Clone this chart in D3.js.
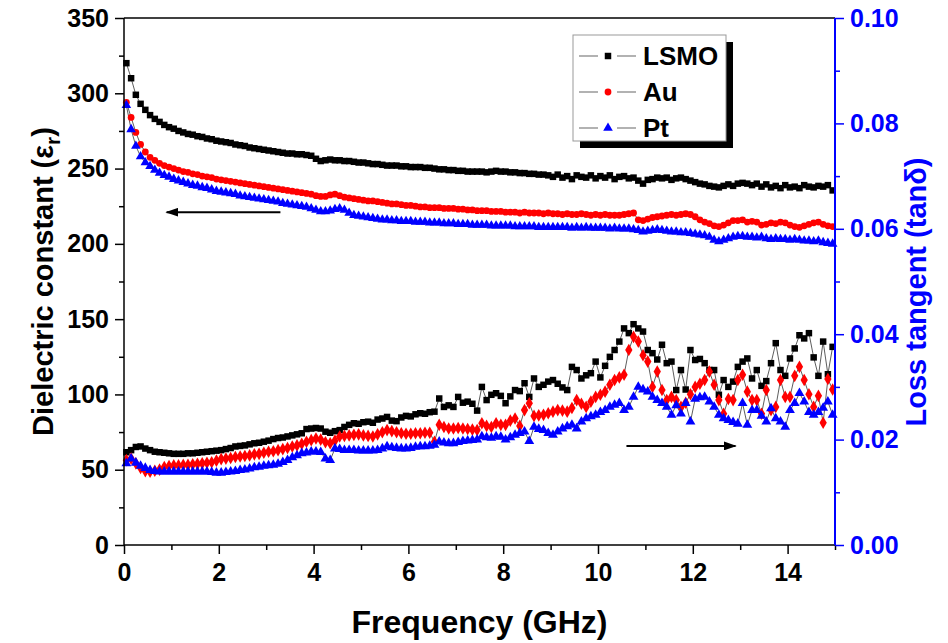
<!DOCTYPE html>
<html lang="en">
<head>
    <meta charset="UTF-8">
    <title>Dielectric constant and loss tangent vs frequency</title>
    <script src="https://d3js.org/d3.v7.min.js"></script>
    <style>
        body { margin: 0; background: #fff; }
        svg text { font-family: 'Liberation Sans', Arial, sans-serif; font-weight: bold; }
    </style>
</head>
<body>
    <div id="chart"></div>
    <script>
        // frequency sweep (GHz), 0.1 GHz step
        const freq = d3.range(150).map(i => +(0.05 + 0.1 * i).toFixed(2));

        // dielectric constant (left axis)
        const epsLSMO = [
            320, 310, 299, 293, 289, 285.5, 283, 281, 279, 277.5,
            276.5, 275, 274, 273, 272.5, 271.5, 271, 270, 269.5, 268.5,
            268, 267.5, 267, 266, 265.5, 265, 264, 263.5, 263, 262.5,
            262, 261.5, 261, 260.5, 260, 260, 259.5, 259.5, 259, 258.5,
            256.5, 255, 255.5, 256, 255.5, 255.5, 255, 255, 254.5, 254,
            254, 253.5, 253, 253, 252.5, 252, 252, 252, 251.5, 251.5,
            251, 251, 251, 250.5, 250.5, 250, 249.5, 249.5, 249, 249,
            248.5, 248.5, 248, 248, 248, 248, 247.5, 248, 248.5, 248,
            248, 247.5, 247.5, 247, 247, 246.5, 246.5, 246, 246, 245.5,
            244.5, 246, 244, 245, 243, 245.5, 244.5, 244, 245.5, 243.5,
            245, 244, 245.5, 243, 244.5, 245, 243.5, 244, 242, 240,
            242.5, 243, 244, 243.5, 244, 242.5, 243.5, 244, 243, 242,
            241, 240, 239.5, 238.5, 238, 237.5, 238.5, 239.5, 238.5, 240,
            240.5, 240, 239, 240, 238, 239.5, 237.5, 238.5, 237, 239,
            237.5, 238, 237, 239, 238, 237.5, 238.5, 238, 239, 235.5
        ];
        const epsAu = [
            294, 284, 274, 266, 261, 257.5, 255.5, 253.5, 252, 251,
            250, 249, 248, 247.5, 246.5, 246, 245, 244.5, 244, 243,
            242.5, 242, 241.5, 241, 240.5, 240, 239.5, 239, 238.5, 238,
            237.5, 237, 236.5, 236, 235.5, 235, 234.5, 234, 233.5, 233,
            232, 231.5, 231.5, 232.5, 233, 232, 231, 230.5, 230, 229.5,
            229, 228.5, 228.5, 228, 227.5, 227, 226.5, 226.5, 226, 225.5,
            225.5, 225, 224.5, 224.5, 224, 224, 224, 223.5, 223.5, 223.5,
            223, 223, 222.5, 222.5, 222, 222, 222, 221.5, 221.5, 221.5,
            221, 221, 221, 220.5, 221, 220.5, 220.5, 220.5, 220, 220.5,
            220, 220, 219.5, 220, 219.5, 219.5, 220, 219.5, 219, 219.5,
            219, 219.5, 219, 219, 219, 219.5, 220, 220.5, 216, 215.5,
            216.5, 217.5, 218, 218.5, 219, 219.5, 219, 219.5, 220, 219.5,
            218, 216, 214.5, 213.5, 212, 211.5, 212.5, 214, 215.5, 215.5,
            216, 214.5, 215, 214.5, 212.5, 213, 214, 213.5, 214.5, 214,
            212.5, 211.5, 211, 212, 213, 214, 214.5, 213, 212, 211.5
        ];
        const epsPt = [
            292, 276, 265, 258, 254, 251.5, 249, 247, 245.5, 244.5,
            243, 242, 241, 240, 239, 238.5, 237.5, 237, 236, 235,
            234.5, 234, 233.5, 233, 232, 231.5, 231, 230.5, 230, 229.5,
            229, 228.5, 228, 227, 226.5, 226, 225.5, 225, 224.5, 223.5,
            222.5, 221.5, 221.5, 222, 223, 223.5, 222.5, 220.5, 219, 218.5,
            218, 217.5, 217, 216.5, 216, 216, 215.5, 215.5, 215, 215,
            215, 214.5, 214.5, 214.5, 214, 214, 214, 213.5, 213.5, 213.5,
            213, 213, 213, 212.5, 212.5, 212.5, 212.5, 212, 212, 212,
            212, 212, 211.5, 211.5, 211.5, 211.5, 211.5, 211, 211, 211,
            211, 211, 211, 211, 210.5, 211, 210.5, 211, 210.5, 210.5,
            210.5, 210.5, 210, 210.5, 210, 210, 210, 209.5, 209, 208,
            208.5, 209, 209.5, 209, 208.5, 208, 208, 207.5, 207.5, 207,
            206.5, 206, 205.5, 204.5, 202.5, 201.5, 202.5, 203.5, 204.5, 205,
            205, 204.5, 204.5, 204, 204.5, 203.5, 203, 203.5, 203, 203,
            202.5, 203, 202.5, 202, 202, 201.5, 202, 201, 200.5, 200
        ];

        // loss tangent (right axis)
        const tanLSMO = [
            .0176, .0180, .0186, .0187, .0183, .0180, .0177, .0176, .0175, .0174,
            .0173, .0173, .0173, .0174, .0174, .0175, .0176, .0177, .0178, .0179,
            .0180, .0182, .0184, .0187, .0188, .0189, .0191, .0193, .0194, .0196,
            .0198, .0201, .0203, .0204, .0206, .0208, .0210, .0212, .0220, .0221,
            .0222, .0221, .0215, .0213, .0216, .0218, .0224, .0228, .0231, .0230,
            .0233, .0234, .0232, .0238, .0240, .0243, .0236, .0235, .0242, .0245,
            .0244, .0248, .0250, .0249, .0252, .0253, .0278, .0262, .0265, .0262,
            .0281, .0270, .0272, .0268, .0255, .0300, .0275, .0285, .0288, .0283,
            .0269, .0282, .0294, .0292, .0307, .0281, .0316, .0300, .0304, .0310,
            .0313, .0306, .0299, .0294, .0338, .0332, .0316, .0322, .0326, .0348,
            .0318, .0340, .0357, .0370, .0386, .0411, .0402, .0419, .0411, .0405,
            .0370, .0364, .0352, .0380, .0345, .0348, .0294, .0332, .0295, .0370,
            .0351, .0353, .0345, .0332, .0332, .0285, .0313, .0300, .0310, .0338,
            .0348, .0354, .0316, .0332, .0302, .0311, .0345, .0383, .0332, .0321,
            .0354, .0373, .0398, .0392, .0402, .0356, .0321, .0386, .0324, .0376
        ];
        const tanAu = [
            .0161, .0164, .0155, .0146, .0140, .0139, .0141, .0143, .0148, .0150,
            .0151, .0151, .0152, .0152, .0153, .0154, .0155, .0156, .0157, .0160,
            .0163, .0164, .0165, .0167, .0168, .0169, .0170, .0172, .0173, .0175,
            .0177, .0178, .0180, .0182, .0184, .0187, .0189, .0192, .0196, .0199,
            .0202, .0200, .0195, .0193, .0198, .0206, .0207, .0208, .0209, .0210,
            .0208, .0207, .0206, .0210, .0214, .0218, .0216, .0214, .0212, .0211,
            .0211, .0212, .0212, .0213, .0213, .0196, .0228, .0224, .0221, .0221,
            .0222, .0221, .0220, .0219, .0218, .0231, .0226, .0224, .0231, .0228,
            .0228, .0236, .0240, .0226, .0256, .0269, .0245, .0246, .0247, .0250,
            .0253, .0256, .0255, .0253, .0260, .0275, .0268, .0262, .0272, .0281,
            .0285, .0291, .0304, .0313, .0318, .0323, .0370, .0395, .0386, .0360,
            .0348, .0300, .0329, .0294, .0275, .0281, .0275, .0262, .0270, .0286,
            .0300, .0306, .0313, .0329, .0304, .0275, .0249, .0277, .0275, .0313,
            .0323, .0291, .0275, .0275, .0249, .0294, .0256, .0262, .0313, .0281,
            .0281, .0321, .0338, .0313, .0286, .0262, .0283, .0232, .0315, .0295
        ];
        const tanPt = [
            .0155, .0164, .0156, .0150, .0146, .0142, .0140, .0139, .0139, .0139,
            .0139, .0139, .0139, .0139, .0139, .0139, .0139, .0139, .0138, .0137,
            .0137, .0138, .0139, .0140, .0142, .0143, .0145, .0147, .0148, .0150,
            .0151, .0152, .0154, .0157, .0161, .0166, .0170, .0174, .0175, .0177,
            .0177, .0176, .0164, .0161, .0183, .0182, .0180, .0180, .0180, .0179,
            .0179, .0179, .0179, .0180, .0183, .0187, .0185, .0184, .0183, .0183,
            .0184, .0186, .0187, .0187, .0188, .0190, .0196, .0194, .0193, .0193,
            .0195, .0197, .0198, .0199, .0200, .0206, .0204, .0203, .0206, .0205,
            .0200, .0204, .0209, .0212, .0215, .0197, .0224, .0220, .0218, .0212,
            .0209, .0215, .0221, .0225, .0228, .0221, .0234, .0240, .0244, .0247,
            .0252, .0256, .0262, .0266, .0269, .0256, .0262, .0281, .0300, .0295,
            .0291, .0281, .0275, .0269, .0262, .0247, .0265, .0249, .0269, .0234,
            .0277, .0280, .0281, .0272, .0262, .0247, .0240, .0237, .0233, .0230,
            .0269, .0228, .0256, .0256, .0245, .0234, .0259, .0240, .0234, .0224,
            .0256, .0269, .0288, .0272, .0252, .0247, .0252, .0260, .0272, .0247
        ];

        const xTicks = [0, 2, 4, 6, 8, 10, 12, 14];
        const xMinorTicks = [1, 3, 5, 7, 9, 11, 13, 15];
        const yLeftTicks = [0, 50, 100, 150, 200, 250, 300, 350];
        const yLeftMinorTicks = [25, 75, 125, 175, 225, 275, 325];
        const yRightTicks = [0, 0.02, 0.04, 0.06, 0.08, 0.10];
        const yRightMinorTicks = [0.01, 0.03, 0.05, 0.07, 0.09];
        const legendNames = ["LSMO", "Au", "Pt"];
        // arrows: [x from, x to, y] in data units of the axis they point to
        const arrowLeft = [3.3, 0.9, 221];
        const arrowRight = [10.6, 12.9, 0.0188];

        const width = 948, height = 643;
        const plot = { left: 124, right: 835, top: 18, bottom: 545 };

        const x = d3.scaleLinear().domain([0, 15]).range([plot.left, plot.right]);
        const yL = d3.scaleLinear().domain([0, 350]).range([plot.bottom, plot.top]);
        const yR = d3.scaleLinear().domain([0, 0.10]).range([plot.bottom, plot.top]);

        const svg = d3.select("#chart").append("svg")
            .attr("width", width)
            .attr("height", height);

        const series = [
            { values: epsLSMO, y: yL, color: "#000", symbol: d3.symbolSquare, size: 42 },
            { values: epsAu, y: yL, color: "#ff0000", symbol: d3.symbolCircle, size: 36 },
            { values: epsPt, y: yL, color: "#0000ff", symbol: d3.symbolTriangle, size: 40 },
            { values: tanLSMO, y: yR, color: "#000", symbol: d3.symbolSquare, size: 42 },
            { values: tanAu, y: yR, color: "#ff0000", symbol: d3.symbolDiamond, size: 46 },
            { values: tanPt, y: yR, color: "#0000ff", symbol: d3.symbolTriangle, size: 42 }
        ];

        // connecting lines first, symbols on top
        series.forEach(s => {
            const line = d3.line()
                .x((d, i) => x(freq[i]))
                .y(d => s.y(d));
            svg.append("path")
                .datum(s.values)
                .attr("d", line)
                .attr("fill", "none")
                .attr("stroke", "#333")
                .attr("stroke-width", 0.8);
        });
        series.forEach(s => {
            svg.append("g")
                .selectAll("path")
                .data(s.values)
                .join("path")
                .attr("transform", (d, i) => `translate(${x(freq[i])},${s.y(d)})`)
                .attr("d", d3.symbol().type(s.symbol).size(s.size))
                .attr("fill", s.color);
        });

        // axes
        const styleAxis = (g, color, fontSize) => {
            g.selectAll("path.domain").remove();
            g.selectAll("line").attr("stroke", color).attr("stroke-width", 1.5);
            g.selectAll("text").attr("fill", color).style("font-size", fontSize + "px");
        };

        svg.append("g")
            .attr("transform", `translate(0,${plot.bottom})`)
            .call(d3.axisBottom(x).tickValues(xTicks).tickSize(9).tickPadding(9).tickFormat(d3.format("d")))
            .call(g => styleAxis(g, "#000", 25));
        svg.append("g")
            .attr("transform", `translate(0,${plot.bottom})`)
            .call(d3.axisBottom(x).tickValues(xMinorTicks).tickSize(5).tickFormat(""))
            .call(g => styleAxis(g, "#000", 25));

        svg.append("g")
            .attr("transform", `translate(${plot.left},0)`)
            .call(d3.axisLeft(yL).tickValues(yLeftTicks).tickSize(9).tickPadding(6).tickFormat(d3.format("d")))
            .call(g => styleAxis(g, "#000", 25));
        svg.append("g")
            .attr("transform", `translate(${plot.left},0)`)
            .call(d3.axisLeft(yL).tickValues(yLeftMinorTicks).tickSize(5).tickFormat(""))
            .call(g => styleAxis(g, "#000", 25));

        svg.append("g")
            .attr("transform", `translate(${plot.right},0)`)
            .call(d3.axisRight(yR).tickValues(yRightTicks).tickSize(9).tickPadding(6).tickFormat(d3.format(".2f")))
            .call(g => styleAxis(g, "#0000ff", 25));
        svg.append("g")
            .attr("transform", `translate(${plot.right},0)`)
            .call(d3.axisRight(yR).tickValues(yRightMinorTicks).tickSize(5).tickFormat(""))
            .call(g => styleAxis(g, "#0000ff", 25));

        // frame
        svg.append("line")
            .attr("x1", plot.left).attr("x2", plot.right)
            .attr("y1", plot.top).attr("y2", plot.top)
            .attr("stroke", "#000").attr("stroke-width", 1.5);
        svg.append("line")
            .attr("x1", plot.left).attr("x2", plot.right)
            .attr("y1", plot.bottom).attr("y2", plot.bottom)
            .attr("stroke", "#000").attr("stroke-width", 1.5);
        svg.append("line")
            .attr("x1", plot.left).attr("x2", plot.left)
            .attr("y1", plot.top).attr("y2", plot.bottom)
            .attr("stroke", "#000").attr("stroke-width", 1.5);
        svg.append("line")
            .attr("x1", plot.right).attr("x2", plot.right)
            .attr("y1", plot.top).attr("y2", plot.bottom)
            .attr("stroke", "#0000ff").attr("stroke-width", 2);

        // axis titles
        svg.append("text")
            .attr("x", (plot.left + plot.right) / 2)
            .attr("y", 633)
            .attr("text-anchor", "middle")
            .style("font-size", "32px")
            .text("Frequency (GHz)");

        const leftTitle = svg.append("text")
            .attr("transform", `translate(53,${(plot.top + plot.bottom) / 2}) rotate(-90)`)
            .attr("text-anchor", "middle")
            .style("font-size", "29px");
        leftTitle.append("tspan").text("Dielectric constant (ε");
        leftTitle.append("tspan").attr("dy", 7).style("font-size", "21px").text("r");
        leftTitle.append("tspan").attr("dy", -7).text(")");

        svg.append("text")
            .attr("transform", "translate(926,292) rotate(-90)")
            .attr("text-anchor", "middle")
            .attr("fill", "#0000ff")
            .style("font-size", "29px")
            .text("Loss tangent (tanδ)");

        // arrows
        const defs = svg.append("defs");
        defs.append("marker")
            .attr("id", "head")
            .attr("viewBox", "0 0 10 10")
            .attr("refX", 9).attr("refY", 5)
            .attr("markerWidth", 13).attr("markerHeight", 9)
            .attr("markerUnits", "userSpaceOnUse")
            .attr("orient", "auto")
            .attr("preserveAspectRatio", "none")
            .append("path")
            .attr("d", "M0,0L10,5L0,10Z")
            .attr("fill", "#000");
        svg.append("line")
            .attr("x1", x(arrowLeft[0])).attr("x2", x(arrowLeft[1]))
            .attr("y1", yL(arrowLeft[2])).attr("y2", yL(arrowLeft[2]))
            .attr("stroke", "#000").attr("stroke-width", 2)
            .attr("marker-end", "url(#head)");
        svg.append("line")
            .attr("x1", x(arrowRight[0])).attr("x2", x(arrowRight[1]))
            .attr("y1", yR(arrowRight[2])).attr("y2", yR(arrowRight[2]))
            .attr("stroke", "#000").attr("stroke-width", 2)
            .attr("marker-end", "url(#head)");

        // legend with shadow
        const legend = svg.append("g").attr("transform", "translate(573,35)");
        legend.append("rect")
            .attr("x", 7).attr("y", 7)
            .attr("width", 153).attr("height", 106)
            .attr("fill", "#000");
        legend.append("rect")
            .attr("width", 153).attr("height", 106)
            .attr("fill", "#fff")
            .attr("stroke", "#999");
        legendNames.forEach((name, i) => {
            const s = series[i];
            const row = legend.append("g").attr("transform", `translate(0,${21 + i * 36})`);
            row.append("line").attr("x1", 6).attr("x2", 25).attr("stroke", "#999").attr("stroke-width", 1.5);
            row.append("line").attr("x1", 44).attr("x2", 63).attr("stroke", "#999").attr("stroke-width", 1.5);
            row.append("path")
                .attr("transform", "translate(35,0)")
                .attr("d", d3.symbol().type(s.symbol).size(s.size))
                .attr("fill", s.color);
            row.append("text")
                .attr("x", 70).attr("y", 9)
                .style("font-size", "26px")
                .text(name);
        });
    </script>
</body>
</html>
